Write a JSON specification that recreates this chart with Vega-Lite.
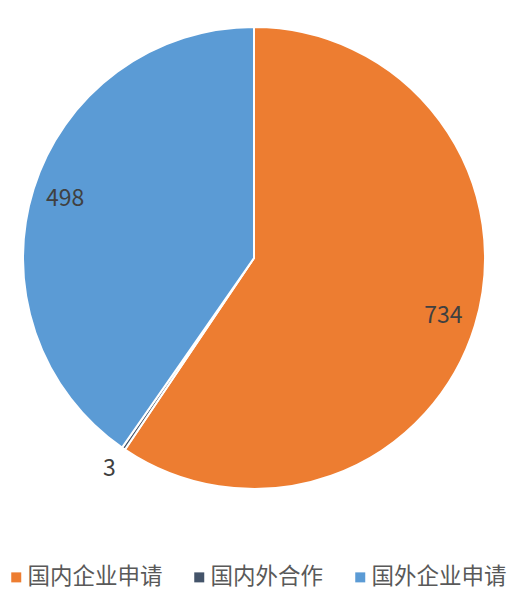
{
  "$schema": "https://vega.github.io/schema/vega-lite/v6.json",
  "width": 508,
  "height": 516,
  "padding": 0,
  "autosize": {"type": "pad"},
  "background": "white",
  "config": {"view": {"stroke": null}},
  "data": {"values": [
    {"name": "国内企业申请", "value": 734, "idx": 1},
    {"name": "国内外合作", "value": 3, "idx": 2},
    {"name": "国外企业申请", "value": 498, "idx": 3}
  ]},
  "encoding": {
    "theta": {"field": "value", "type": "quantitative", "stack": true},
    "order": {"field": "idx", "type": "quantitative"}
  },
  "layer": [
    {
      "mark": {"type": "arc", "outerRadius": 231, "stroke": "white", "strokeWidth": 2},
      "encoding": {
        "color": {
          "field": "name", "type": "nominal",
          "scale": {"domain": ["国内企业申请", "国内外合作", "国外企业申请"], "range": ["#ED7D31", "#44546A", "#5B9BD5"]},
          "legend": {
            "orient": "none", "legendX": 5, "legendY": 566, "direction": "horizontal",
            "padding": 0, "symbolOffset": 0,
            "title": null, "symbolType": "square", "symbolSize": 100, "symbolStrokeWidth": 0,
            "labelFont": "Noto Sans CJK SC", "labelFontSize": 22.5, "labelColor": "#595959",
            "labelOffset": 0, "columnPadding": 25, "labelLimit": 300
          }
        }
      }
    },
    {
      "mark": {"type": "text", "radius": 198, "font": "Noto Sans CJK SC", "fontSize": 23, "fill": "#404040"},
      "encoding": {
        "detail": {"field": "name"},
        "text": {"condition": {"test": "datum.value < 10", "value": ""}, "field": "value", "type": "quantitative"}
      }
    },
    {
      "mark": {"type": "text", "radius": 256, "font": "Noto Sans CJK SC", "fontSize": 23, "fill": "#404040"},
      "encoding": {
        "detail": {"field": "name"},
        "text": {"condition": {"test": "datum.value >= 10", "value": ""}, "field": "value", "type": "quantitative"}
      }
    }
  ]
}
